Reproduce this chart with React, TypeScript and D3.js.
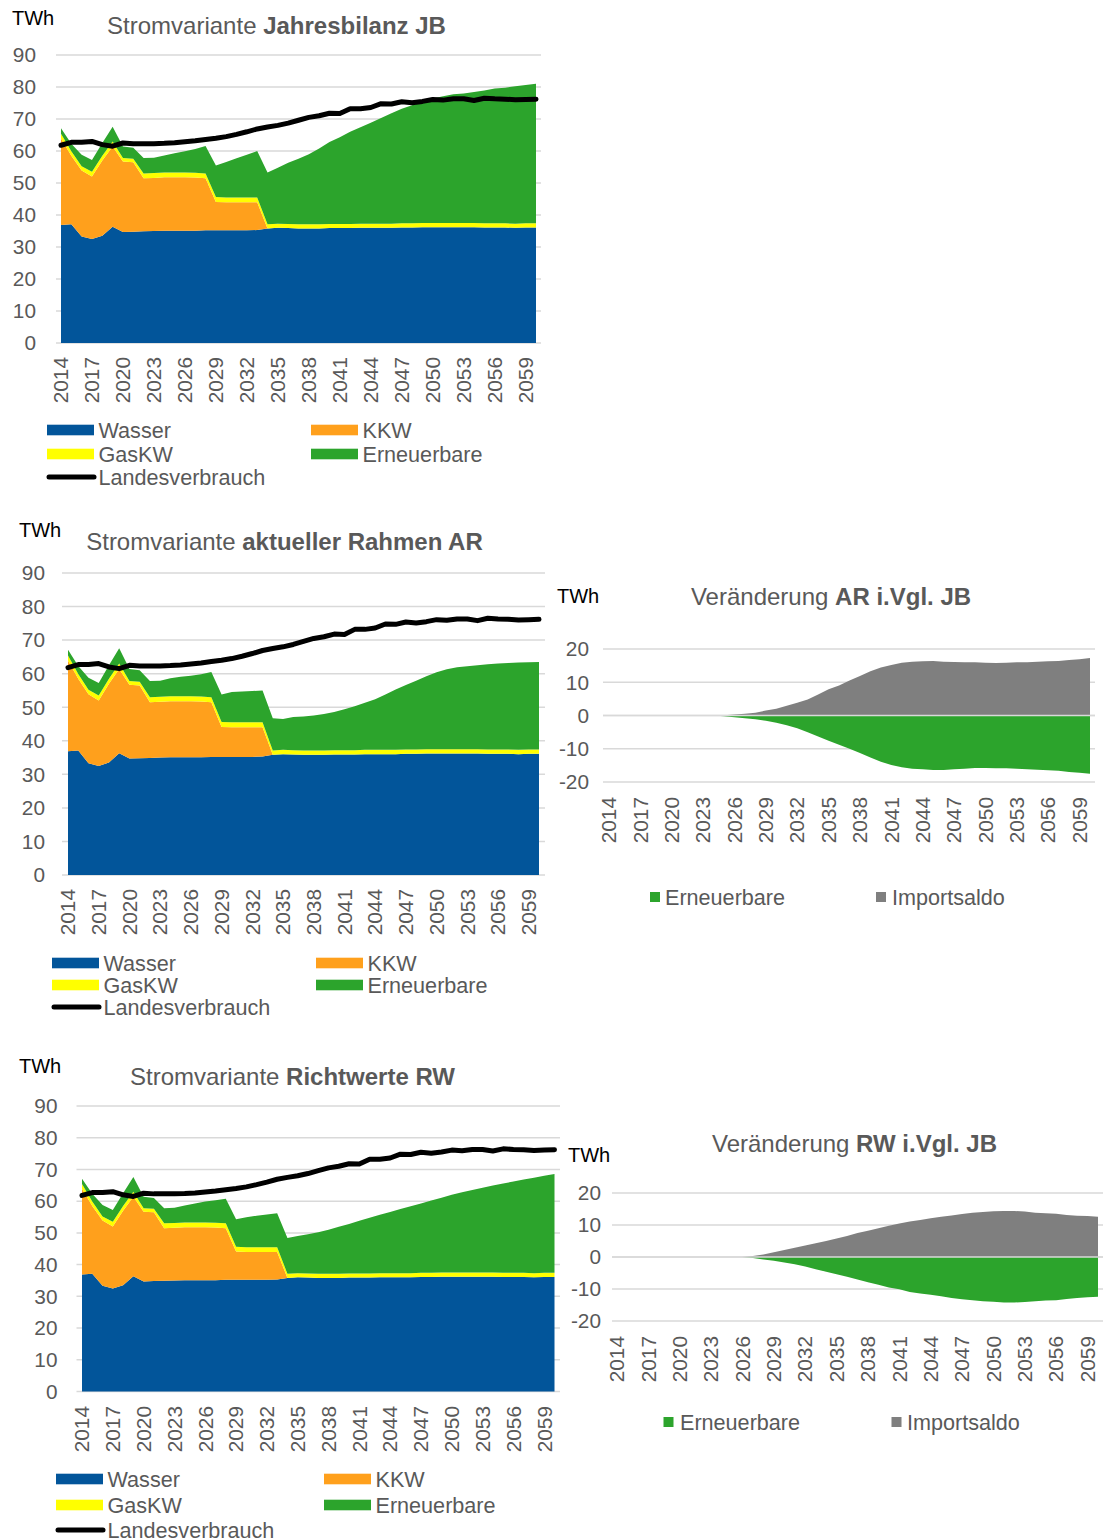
import React from 'react';
import * as d3 from 'd3';

// ---------- DATA ----------
const years: number[] = d3.range(2014, 2061);
const xTickYears: number[] = [2014, 2017, 2020, 2023, 2026, 2029, 2032, 2035, 2038, 2041, 2044, 2047, 2050, 2053, 2056, 2059];
const yTicksMain: number[] = [0, 10, 20, 30, 40, 50, 60, 70, 80, 90];
const yTicksDiff: number[] = [-20, -10, 0, 10, 20];

const wasser: number[] = [36.9, 37.1, 33.3, 32.5, 33.5, 36.3, 34.7, 34.8, 34.9, 35.0, 35.1, 35.1, 35.1, 35.1, 35.2, 35.2, 35.2, 35.2, 35.2, 35.3, 35.8, 36.0, 35.9, 35.8, 35.8, 35.8, 35.9, 35.9, 35.9, 36.0, 36.0, 36.0, 36.0, 36.1, 36.1, 36.2, 36.2, 36.2, 36.2, 36.2, 36.2, 36.1, 36.1, 36.1, 36.0, 36.1, 36.1];
const kkw: number[] = [27.0, 21.4, 20.6, 19.5, 23.5, 25.1, 22.0, 21.7, 16.6, 16.6, 16.7, 16.7, 16.7, 16.6, 16.3, 8.9, 8.8, 8.8, 8.8, 8.7, 0, 0, 0, 0, 0, 0, 0, 0, 0, 0, 0, 0, 0, 0, 0, 0, 0, 0, 0, 0, 0, 0, 0, 0, 0, 0, 0];
const gasKW: number[] = [1.5, 1.4, 1.3, 1.5, 1.5, 1.6, 1.1, 1.1, 1.5, 1.5, 1.5, 1.5, 1.5, 1.5, 1.5, 1.5, 1.5, 1.5, 1.5, 1.5, 1.3, 1.3, 1.3, 1.3, 1.3, 1.3, 1.3, 1.3, 1.3, 1.3, 1.3, 1.3, 1.3, 1.3, 1.3, 1.3, 1.3, 1.3, 1.3, 1.3, 1.3, 1.3, 1.3, 1.3, 1.3, 1.3, 1.3];
const erneuerbareJB: number[] = [1.7, 2.4, 3.6, 3.7, 4.0, 4.6, 3.6, 3.4, 4.8, 4.8, 5.3, 6.0, 6.6, 7.4, 8.6, 9.9, 11.1, 12.2, 13.3, 14.5, 16.2, 17.5, 19.1, 20.5, 21.9, 23.7, 25.6, 27.1, 28.8, 30.1, 31.5, 33.0, 34.5, 35.8, 36.9, 37.9, 38.9, 39.6, 40.2, 40.5, 40.9, 41.5, 42.1, 42.4, 42.9, 43.2, 43.6];
const erneuerbareAR: number[] = [1.7, 2.4, 3.6, 3.7, 4.0, 4.6, 3.6, 3.4, 4.8, 4.8, 5.3, 5.8, 6.1, 6.6, 7.5, 8.2, 9.0, 9.2, 9.3, 9.5, 9.6, 9.2, 9.9, 10.1, 10.4, 10.9, 11.4, 12.2, 13.1, 14.0, 15.1, 16.5, 18.0, 19.2, 20.5, 21.7, 22.9, 23.8, 24.4, 24.7, 25.0, 25.4, 25.6, 25.8, 26.0, 26.0, 26.1];
const erneuerbareRW: number[] = [1.7, 2.4, 3.6, 3.7, 4.0, 4.6, 3.6, 3.4, 4.8, 4.8, 5.3, 6.0, 6.6, 7.1, 7.8, 8.7, 9.4, 9.9, 10.3, 10.7, 11.3, 11.7, 12.4, 13.1, 13.9, 14.8, 15.6, 16.6, 17.6, 18.4, 19.3, 20.2, 21.1, 21.9, 22.8, 23.6, 24.5, 25.3, 26.0, 26.7, 27.4, 28.2, 28.8, 29.4, 30.1, 30.6, 31.2];
const landesverbrauch: number[] = [61.8, 62.7, 62.7, 63.0, 62.0, 61.5, 62.5, 62.3, 62.3, 62.3, 62.4, 62.6, 62.9, 63.2, 63.6, 64.0, 64.5, 65.2, 66.0, 66.9, 67.5, 68.0, 68.7, 69.6, 70.5, 71.0, 71.8, 71.7, 73.2, 73.2, 73.6, 74.8, 74.7, 75.4, 75.1, 75.5, 76.1, 75.9, 76.3, 76.3, 75.8, 76.5, 76.3, 76.2, 76.0, 76.1, 76.2];

const diffImportAR: number[] = [0, 0, 0, 0, 0, 0, 0, 0, 0, 0, 0, 0.1, 0.3, 0.5, 0.8, 1.5, 2.0, 2.9, 3.8, 4.8, 6.3, 7.9, 9.0, 10.5, 11.9, 13.3, 14.4, 15.2, 15.9, 16.2, 16.3, 16.4, 16.2, 16.1, 16.0, 16.0, 15.9, 15.8, 15.9, 16.0, 16.0, 16.2, 16.3, 16.4, 16.7, 16.9, 17.3];
const diffErneuerbareAR: number[] = [0, 0, 0, 0, 0, 0, 0, 0, 0, 0, 0, -0.2, -0.5, -0.8, -1.1, -1.6, -2.2, -2.9, -3.8, -5.0, -6.3, -7.6, -8.8, -10.0, -11.3, -12.6, -13.9, -14.9, -15.6, -16.0, -16.2, -16.4, -16.4, -16.2, -16.0, -15.8, -15.8, -15.9, -15.9, -16.0, -16.2, -16.3, -16.5, -16.6, -17.0, -17.2, -17.5];
const diffImportRW: number[] = [0, 0, 0, 0, 0, 0, 0, 0, 0, 0, 0, 0, 0, 0.3, 0.8, 1.5, 2.2, 2.9, 3.6, 4.3, 5.0, 5.8, 6.6, 7.5, 8.2, 9.0, 9.8, 10.5, 11.1, 11.6, 12.1, 12.6, 13.0, 13.4, 13.8, 14.1, 14.3, 14.4, 14.4, 14.2, 13.8, 13.7, 13.5, 13.1, 12.9, 12.8, 12.6];
const diffErneuerbareRW: number[] = [0, 0, 0, 0, 0, 0, 0, 0, 0, 0, 0, 0, 0, -0.3, -0.8, -1.2, -1.7, -2.3, -3.0, -3.8, -4.6, -5.4, -6.2, -7.0, -7.9, -8.7, -9.5, -10.1, -10.9, -11.4, -11.8, -12.3, -12.8, -13.2, -13.5, -13.8, -14.0, -14.2, -14.2, -14.1, -13.8, -13.6, -13.5, -13.1, -12.8, -12.6, -12.4];

// ---------- STYLE ----------
const FONT = "'Liberation Sans', Arial, Helvetica, sans-serif";
const TEXT = '#595959';
const GRID = '#d9d9d9';
const COL = { wasser: '#02559a', kkw: '#ffa01c', gas: '#ffff00', ern: '#2ca42c', imp: '#7f7f7f', line: '#000000' };
const LEG_FS = 21.6;

type MainCfg = {
  gx0: number; gx1: number; dx0: number; dx1: number; yt: number; yb: number;
  yLabR: number; xLabTop: number; twh: [number, number]; titleX: number; titleY: number;
  legX: number; legX2: number; legRows: [number, number, number];
};
type DiffCfg = {
  gx0: number; gx1: number; dx0: number; dx1: number; yt: number; yb: number;
  yLabR: number; xLabTop: number; twh: [number, number]; titleX: number; titleY: number;
  legY: number; sq1: number; sq2: number; tx1: number; tx2: number;
};

const cfgJB: MainCfg = { gx0: 56, gx1: 541, dx0: 61, dx1: 536, yt: 55, yb: 343, yLabR: 36, xLabTop: 357, twh: [12, 25], titleX: 276.5, titleY: 34, legX: 47, legX2: 311, legRows: [430, 454, 477] };
const cfgAR: MainCfg = { gx0: 62, gx1: 545, dx0: 68, dx1: 539, yt: 573, yb: 875, yLabR: 45, xLabTop: 889, twh: [19, 537], titleX: 284.5, titleY: 550, legX: 52, legX2: 316, legRows: [963, 985, 1007] };
const cfgRW: MainCfg = { gx0: 76.5, gx1: 560, dx0: 82, dx1: 554.5, yt: 1106, yb: 1391.5, yLabR: 57.5, xLabTop: 1406, twh: [19, 1073], titleX: 292.5, titleY: 1085, legX: 56, legX2: 324, legRows: [1479, 1505, 1530] };
const cfgDAR: DiffCfg = { gx0: 603, gx1: 1095, dx0: 609, dx1: 1090, yt: 649, yb: 782, yLabR: 589, xLabTop: 797, twh: [557, 603], titleX: 831, titleY: 605, legY: 897, sq1: 650, sq2: 876, tx1: 665, tx2: 892 };
const cfgDRW: DiffCfg = { gx0: 612, gx1: 1103, dx0: 617, dx1: 1098, yt: 1193, yb: 1321, yLabR: 601, xLabTop: 1336, twh: [568, 1162], titleX: 854.5, titleY: 1152, legY: 1422, sq1: 663.5, sq2: 891.5, tx1: 680, tx2: 907 };

function XLabels({ x, top }: { x: d3.ScaleLinear<number, number>; top: number }) {
  return (
    <g fontSize={20.8} fill={TEXT}>
      {xTickYears.map((yr) => (
        <text key={yr} transform={`translate(${x(yr)},${top}) rotate(-90)`} textAnchor="end" dy="0.35em">{yr}</text>
      ))}
    </g>
  );
}

function MainChart({ cfg, ern, title }: { cfg: MainCfg; ern: number[]; title: string }) {
  const x = d3.scaleLinear().domain([2014, 2060]).range([cfg.dx0, cfg.dx1]);
  const y = d3.scaleLinear().domain([0, 90]).range([cfg.yb, cfg.yt]);
  const rows = years.map((yr, i) => ({ year: yr, wasser: wasser[i], kkw: kkw[i], gas: gasKW[i], ern: ern[i] }));
  const keys = ['wasser', 'kkw', 'gas', 'ern'];
  const series = d3.stack<any>().keys(keys)(rows);
  const area = d3.area<any>().x((d) => x(d.data.year)).y0((d) => y(d[0])).y1((d) => y(d[1]));
  const line = d3.line<number>().x((_, i) => x(years[i])).y((d) => y(d));
  const colors: Record<string, string> = { wasser: COL.wasser, kkw: COL.kkw, gas: COL.gas, ern: COL.ern };
  const sw = 47;
  const legend = [
    { label: 'Wasser', color: COL.wasser, x: cfg.legX, y: cfg.legRows[0] },
    { label: 'KKW', color: COL.kkw, x: cfg.legX2, y: cfg.legRows[0] },
    { label: 'GasKW', color: COL.gas, x: cfg.legX, y: cfg.legRows[1] },
    { label: 'Erneuerbare', color: COL.ern, x: cfg.legX2, y: cfg.legRows[1] },
  ];
  return (
    <g fontFamily={FONT}>
      <text x={cfg.twh[0]} y={cfg.twh[1]} fontSize={20} fill="#000">TWh</text>
      <text x={cfg.titleX} y={cfg.titleY} fontSize={24} fill={TEXT} textAnchor="middle">
        <tspan>{'Stromvariante '}</tspan>
        <tspan fontWeight="bold">{title}</tspan>
      </text>
      {yTicksMain.map((t) => (
        <line key={t} x1={cfg.gx0} x2={cfg.gx1} y1={y(t)} y2={y(t)} stroke={GRID} strokeWidth={1.5} />
      ))}
      {series.map((s) => (
        <path key={s.key} d={area(s as any) || ''} fill={colors[s.key]} />
      ))}
      <path d={line(landesverbrauch) || ''} fill="none" stroke={COL.line} strokeWidth={5} strokeLinejoin="round" strokeLinecap="round" />
      <g fontSize={20.8} fill={TEXT}>
        {yTicksMain.map((t) => (
          <text key={t} x={cfg.yLabR} y={y(t)} dy="0.35em" textAnchor="end">{t}</text>
        ))}
      </g>
      <XLabels x={x} top={cfg.xLabTop} />
      <g fontSize={LEG_FS} fill={TEXT}>
        {legend.map((l) => (
          <g key={l.label}>
            <rect x={l.x} y={l.y - 5.3} width={sw} height={10.6} fill={l.color} />
            <text x={l.x + sw + 4.5} y={l.y} dy="0.35em">{l.label}</text>
          </g>
        ))}
        <line x1={cfg.legX + 2} x2={cfg.legX + sw} y1={cfg.legRows[2]} y2={cfg.legRows[2]} stroke="#000" strokeWidth={5} strokeLinecap="round" />
        <text x={cfg.legX + sw + 4.5} y={cfg.legRows[2]} dy="0.35em">Landesverbrauch</text>
      </g>
    </g>
  );
}

function DiffChart({ cfg, imp, ern, title }: { cfg: DiffCfg; imp: number[]; ern: number[]; title: string }) {
  const x = d3.scaleLinear().domain([2014, 2060]).range([cfg.dx0, cfg.dx1]);
  const y = d3.scaleLinear().domain([-20, 20]).range([cfg.yb, cfg.yt]);
  const area = d3.area<number>().x((_, i) => x(years[i])).y0(y(0)).y1((d) => y(d));
  return (
    <g fontFamily={FONT}>
      <text x={cfg.twh[0]} y={cfg.twh[1]} fontSize={20} fill="#000">TWh</text>
      <text x={cfg.titleX} y={cfg.titleY} fontSize={24} fill={TEXT} textAnchor="middle">
        <tspan>{'Veränderung '}</tspan>
        <tspan fontWeight="bold">{title}</tspan>
      </text>
      {yTicksDiff.map((t) => (
        <line key={t} x1={cfg.gx0} x2={cfg.gx1} y1={y(t)} y2={y(t)} stroke={GRID} strokeWidth={1.5} />
      ))}
      <path d={area(imp) || ''} fill={COL.imp} />
      <path d={area(ern) || ''} fill={COL.ern} />
      <line x1={cfg.gx0} x2={cfg.gx1} y1={y(0)} y2={y(0)} stroke={GRID} strokeWidth={1.5} />
      <g fontSize={20.8} fill={TEXT}>
        {yTicksDiff.map((t) => (
          <text key={t} x={cfg.yLabR} y={y(t)} dy="0.35em" textAnchor="end">{t}</text>
        ))}
      </g>
      <XLabels x={x} top={cfg.xLabTop} />
      <g fontSize={LEG_FS} fill={TEXT}>
        <rect x={cfg.sq1} y={cfg.legY - 5} width={10} height={10} fill={COL.ern} />
        <text x={cfg.tx1} y={cfg.legY} dy="0.35em">Erneuerbare</text>
        <rect x={cfg.sq2} y={cfg.legY - 5} width={10} height={10} fill={COL.imp} />
        <text x={cfg.tx2} y={cfg.legY} dy="0.35em">Importsaldo</text>
      </g>
    </g>
  );
}

export default function App() {
  return (
    <svg width={1104} height={1540} style={{ position: 'absolute', left: 0, top: 0, background: '#fff' }}>
      <rect width={1104} height={1540} fill="#fff" />
      <MainChart cfg={cfgJB} ern={erneuerbareJB} title="Jahresbilanz JB" />
      <MainChart cfg={cfgAR} ern={erneuerbareAR} title="aktueller Rahmen AR" />
      <MainChart cfg={cfgRW} ern={erneuerbareRW} title="Richtwerte RW" />
      <DiffChart cfg={cfgDAR} imp={diffImportAR} ern={diffErneuerbareAR} title="AR i.Vgl. JB" />
      <DiffChart cfg={cfgDRW} imp={diffImportRW} ern={diffErneuerbareRW} title="RW i.Vgl. JB" />
    </svg>
  );
}
